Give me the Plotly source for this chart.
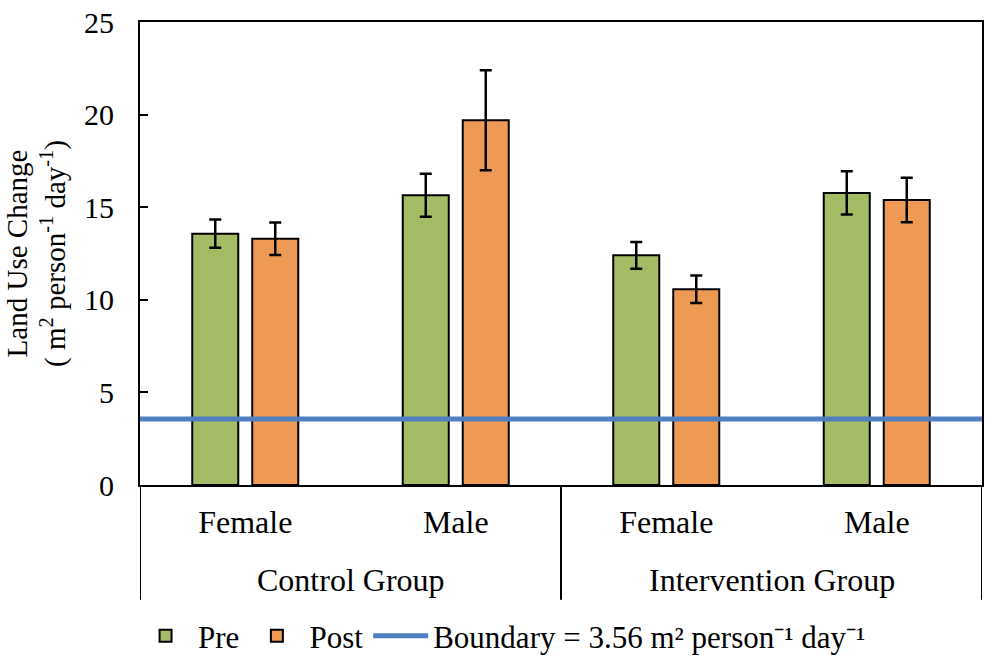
import plotly.graph_objects as go

# categories (outer group, inner sex)
groups = ["Control Group", "Control Group", "Intervention Group", "Intervention Group"]
sexes = ["Female", "Male", "Female", "Male"]

# land use change, m2 person-1 day-1
pre_vals = [13.57, 15.64, 12.40, 15.77]
pre_err = [0.76, 1.16, 0.72, 1.17]
post_vals = [13.30, 19.69, 10.57, 15.39]
post_err = [0.88, 2.70, 0.74, 1.20]

boundary = 3.56

FONT = "Liberation Serif"
GREEN = "#A4BC66"
ORANGE = "#EE9A55"
BLUE = "#4F7FC0"

pos = list(range(len(sexes)))

fig = go.Figure()
fig.add_trace(go.Bar(
    name="Pre", x=pos, y=pre_vals,
    marker=dict(color=GREEN, line=dict(color="black", width=2)),
    error_y=dict(type="data", array=pre_err, color="black", thickness=2.5, width=6),
))
fig.add_trace(go.Bar(
    name="Post", x=pos, y=post_vals,
    marker=dict(color=ORANGE, line=dict(color="black", width=2)),
    error_y=dict(type="data", array=post_err, color="black", thickness=2.5, width=6),
))

# boundary line across the whole plot
fig.add_shape(
    type="line", xref="paper", x0=0, x1=1, yref="y", y0=boundary, y1=boundary,
    line=dict(color=BLUE, width=5), showlegend=True,
    name="Boundary = 3.56 m\u00b2 person\u207b\u00b9 day\u207b\u00b9",
)

# outer group labels and the divider lines between groups
group_names = list(dict.fromkeys(groups))
edges = [-0.5]
for g in group_names:
    idx = [i for i, v in enumerate(groups) if v == g]
    fig.add_annotation(
        text=g, x=(idx[0] + idx[-1]) / 2, xref="x", y=-0.205, yref="paper",
        yanchor="middle", showarrow=False, font=dict(size=32),
    )
    edges.append(idx[-1] + 0.5)
for e in edges:
    fig.add_shape(type="line", x0=e, x1=e, xref="x", y0=0, y1=-0.248, yref="paper",
                  line=dict(color="black", width=2))

fig.update_layout(
    width=992, height=672,
    margin=dict(l=140, r=10, t=22, b=187, autoexpand=False),
    paper_bgcolor="white", plot_bgcolor="white",
    font=dict(family=FONT, size=30, color="black"),
    barmode="group", bargap=0.43, bargroupgap=0.233,
    legend=dict(orientation="h", x=0.43, xanchor="center", y=-0.268, yanchor="top",
                font=dict(size=31), itemwidth=55, tracegroupgap=0),
)
fig.update_xaxes(
    range=[-0.5, len(sexes) - 0.5], tickvals=pos, ticktext=sexes,
    showline=True, linecolor="black", linewidth=2, mirror=True,
    ticks="", showgrid=False, zeroline=False, automargin=False,
    tickfont=dict(size=32), ticklabelstandoff=8,
)
fig.update_yaxes(
    range=[0, 25], dtick=5, ticks="inside", ticklen=8, tickwidth=2, tickcolor="black",
    showline=True, linecolor="black", linewidth=2, mirror=True, showgrid=False,
    zeroline=False, automargin=False, ticklabelstandoff=18,
    title=dict(text="Land Use Change<br>( m<sup>2</sup> person<sup>-1</sup> day<sup>-1</sup>)",
               font=dict(size=29), standoff=10),
)

fig.write_html("out.html", config={"displayModeBar": False},
               post_script="document.body.style.margin='0';")
